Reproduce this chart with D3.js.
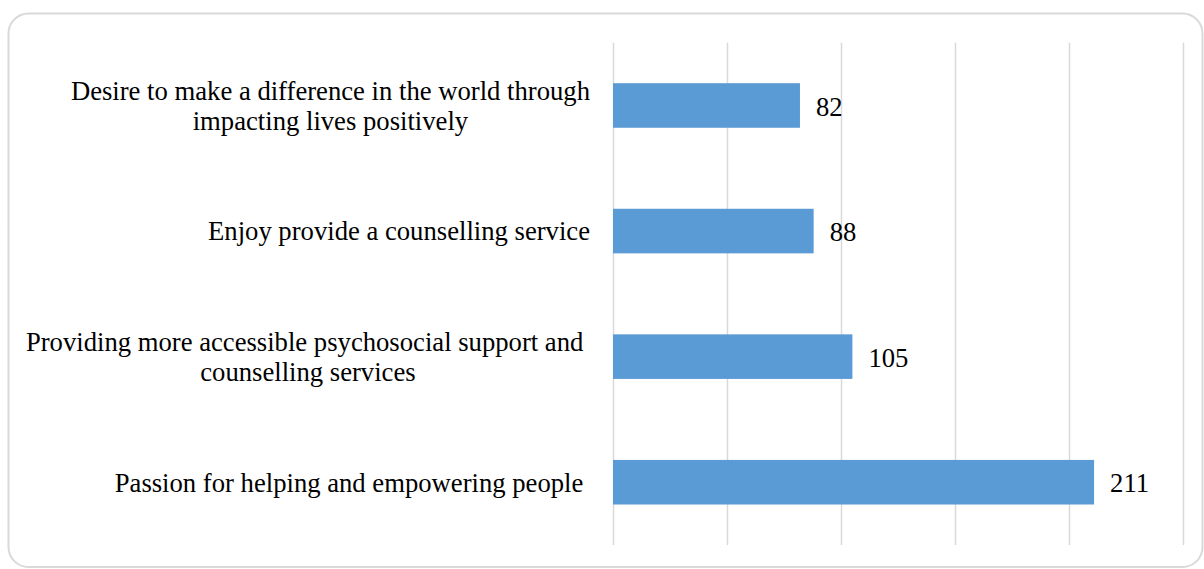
<!DOCTYPE html>
<html>
<head>
<meta charset="utf-8">
<script src="https://cdn.jsdelivr.net/npm/d3@7"></script>
<style>
  html, body { margin: 0; padding: 0; background: #ffffff; }
  svg { display: block; }
  text { font-family: "Liberation Serif", "Times New Roman", serif; fill: #000; }
</style>
</head>
<body>
<svg id="chart" width="1204" height="569"></svg>
<script>
// Reasons given, top to bottom; "\n" marks a line break inside a label
const categories = [
  "Desire to make a difference in the world through\nimpacting lives positively",
  "Enjoy provide a counselling service",
  "Providing more accessible psychosocial support and \ncounselling services",
  "Passion for helping and empowering people "
];
const counts = [82, 88, 105, 211];
const xTicks = [0, 50, 100, 150, 200, 250];

const W = 1204, H = 569;
const margin = { top: 42.7, right: 21, bottom: 24, left: 613 };
const fontSize = 26.67;

const svg = d3.select("#chart");

// card frame
svg.append("rect")
  .attr("x", 8.5).attr("y", 13.5)
  .attr("width", 1194).attr("height", 553.5)
  .attr("rx", 20).attr("ry", 20)
  .attr("fill", "#fff")
  .attr("stroke", "#d9d9d9")
  .attr("stroke-width", 2);

const x = d3.scaleLinear()
  .domain([xTicks[0], xTicks[xTicks.length - 1]])
  .range([margin.left, W - margin.right]);

const y = d3.scaleBand()
  .domain(categories)
  .range([margin.top, H - margin.bottom])
  .paddingInner(0.645)
  .paddingOuter(0.3225);

// vertical gridlines
const grid = d3.axisBottom(x)
  .tickValues(xTicks)
  .tickSize(-(y.range()[1] - y.range()[0]))
  .tickFormat("");
svg.append("g")
  .attr("transform", `translate(0,${y.range()[1]})`)
  .call(grid)
  .call(g => g.select(".domain").remove())
  .call(g => g.selectAll(".tick line")
    .attr("stroke", "#d9d9d9")
    .attr("stroke-width", 1.5));

// bars
svg.append("g").selectAll("rect")
  .data(categories)
  .join("rect")
  .attr("x", x(0))
  .attr("y", d => y(d))
  .attr("width", (d, i) => x(counts[i]) - x(0))
  .attr("height", y.bandwidth())
  .attr("fill", "#5b9bd5");

// value labels
svg.append("g").selectAll("text")
  .data(categories)
  .join("text")
  .attr("x", (d, i) => x(counts[i]) + 16)
  .attr("y", d => y(d) + y.bandwidth() / 2)
  .attr("dy", "0.38em")
  .style("font-size", fontSize + "px")
  .text((d, i) => counts[i]);

// category labels: lines centred within a block whose right edge sits left of the axis
const labelRight = x(0) - 23;
const lineH = fontSize * 1.13;
const labels = svg.append("g").selectAll("g")
  .data(categories)
  .join("g");

labels.each(function (d) {
  const g = d3.select(this);
  const lines = d.split("\n");
  const cy = y(d) + y.bandwidth() / 2;
  const texts = lines.map((ln, k) => g.append("text")
    .attr("xml:space", "preserve")
    .style("white-space", "pre")
    .style("font-size", fontSize + "px")
    .attr("y", cy + (k - (lines.length - 1) / 2) * lineH)
    .attr("dy", "0.35em")
    .attr("text-anchor", "middle")
    .text(ln));
  const widths = texts.map(t => t.node().getComputedTextLength());
  const blockW = d3.max(widths);
  texts.forEach(t => t.attr("x", labelRight - blockW / 2));
});
</script>
</body>
</html>
